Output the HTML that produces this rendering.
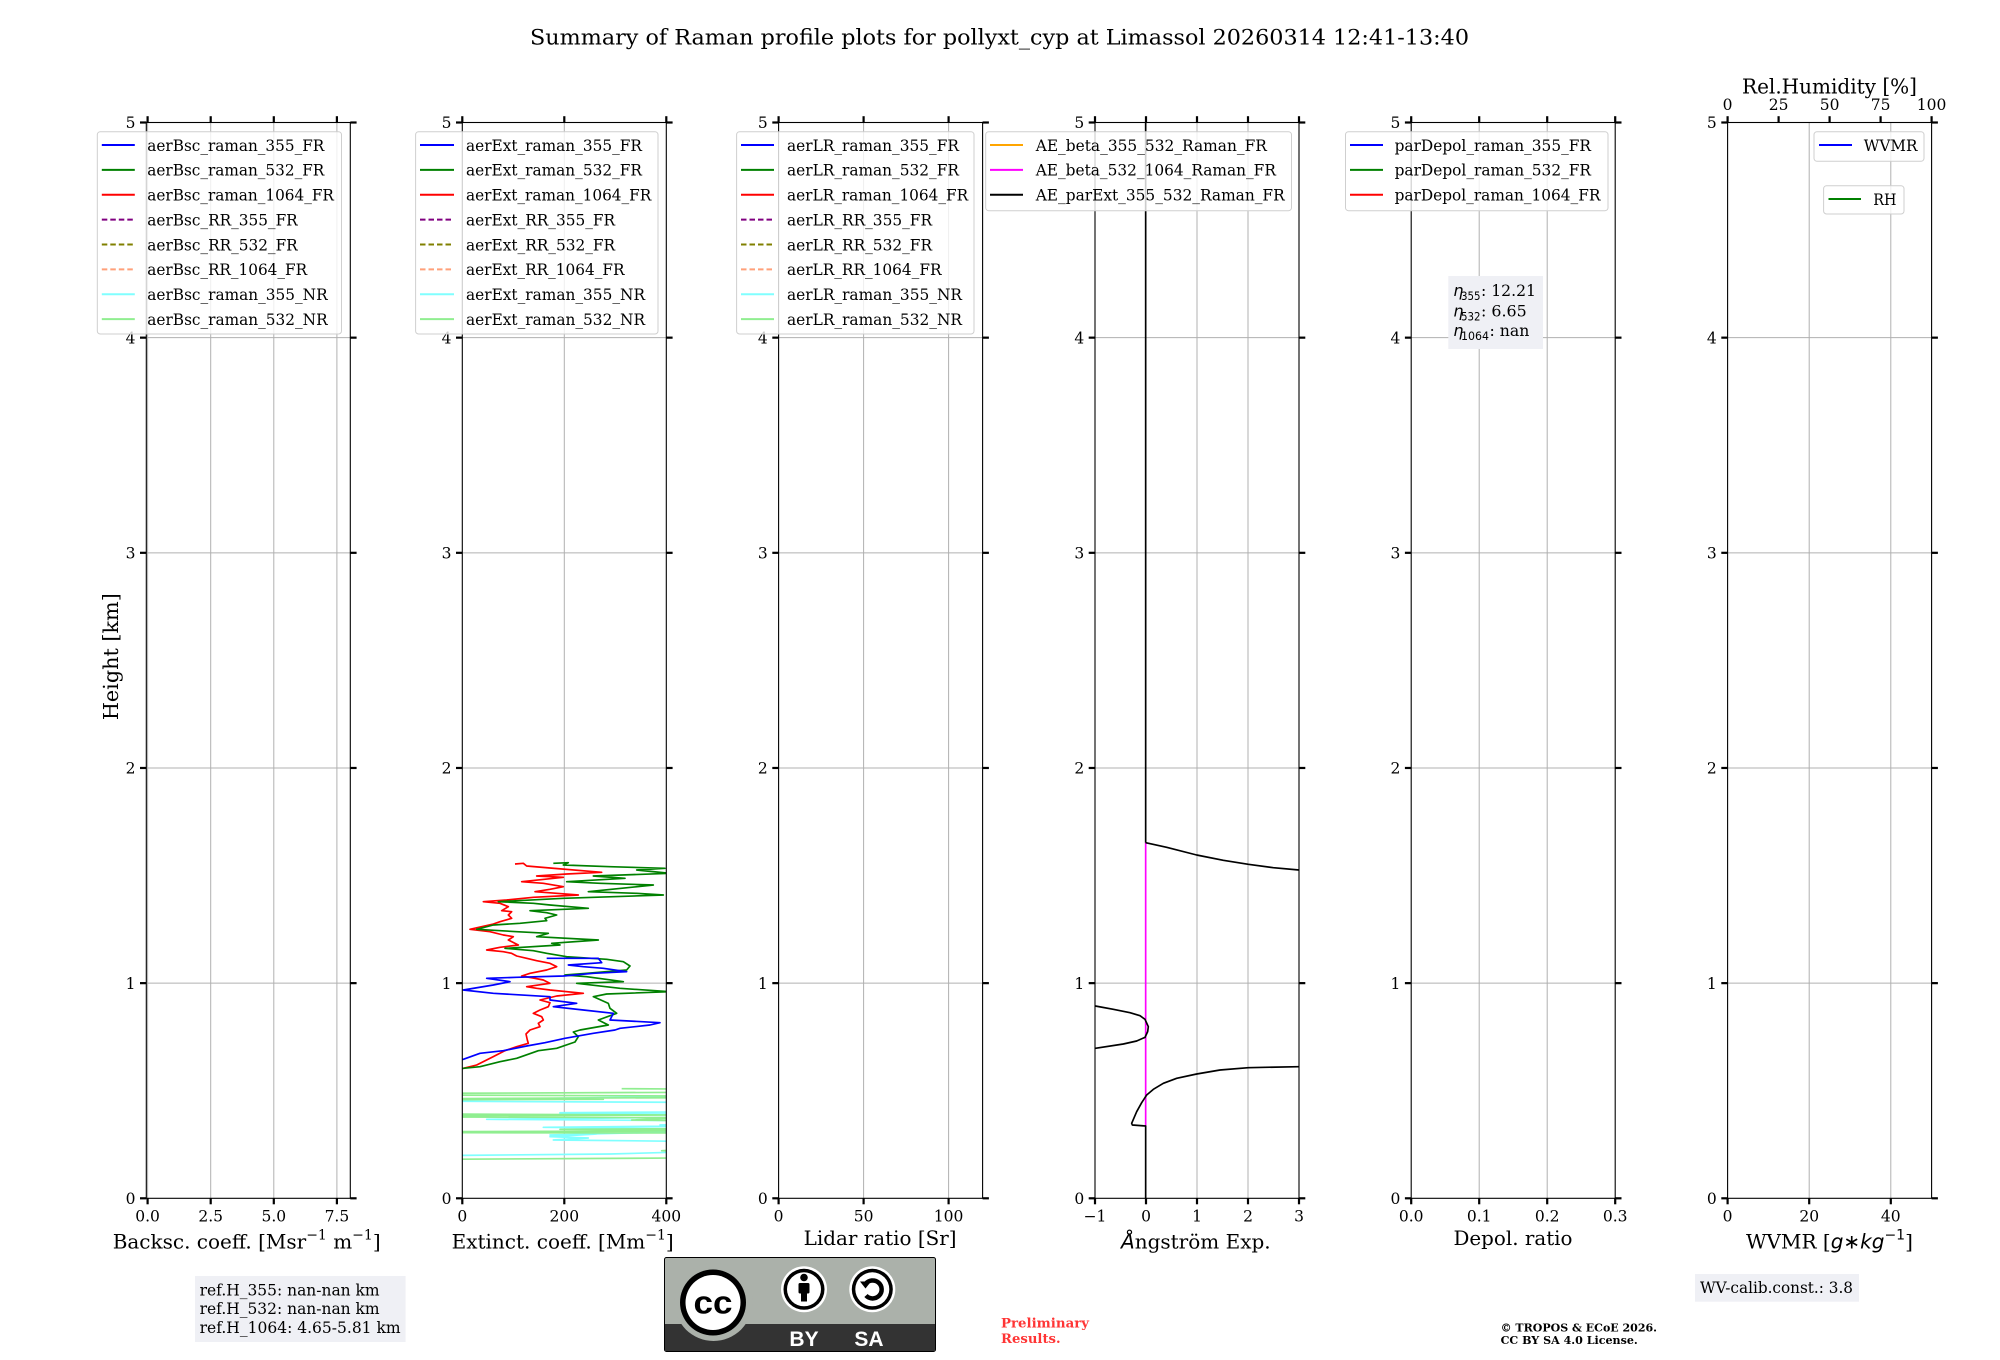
<!DOCTYPE html>
<html><head><meta charset="utf-8">
<style>
html,body{margin:0;padding:0;background:#fff;}
svg{display:block;}
.s{font-family:"DejaVu Serif","Liberation Serif",serif;fill:#000;}
.t{font-family:"DejaVu Serif","Liberation Serif",serif;font-size:15.5px;fill:#000;}
.lg{font-family:"DejaVu Serif","Liberation Serif",serif;font-size:16px;fill:#000;}
.m{font-family:"DejaVu Sans","Liberation Sans",sans-serif;font-style:italic;fill:#000;}
.ms{font-family:"DejaVu Sans","Liberation Sans",sans-serif;fill:#000;}
.grid line{stroke:#b0b0b0;stroke-width:1;}
.tk line{stroke:#000;stroke-width:2.2;}
.sp{fill:none;stroke:#000;stroke-width:1.1;}
.lbox{fill:#fff;fill-opacity:0.8;stroke:#cfcfcf;stroke-width:1;}
</style></head>
<body>
<svg width="2000" height="1360" viewBox="0 0 2000 1360" xmlns="http://www.w3.org/2000/svg">
<defs>
<clipPath id="c2"><rect x="462.3" y="122.5" width="204" height="1075.8"/></clipPath>
<clipPath id="c4"><rect x="1095" y="122.5" width="204" height="1075.8"/></clipPath>
</defs>

<text class="s" x="530" y="44.3" font-size="21.5" textLength="939" lengthAdjust="spacingAndGlyphs">Summary of Raman profile plots for pollyxt_cyp at Limassol 20260314 12:41-13:40</text>

<g class="grid">
<line x1="146.3" x2="350.3" y1="337.66" y2="337.66"/><line x1="146.3" x2="350.3" y1="552.82" y2="552.82"/><line x1="146.3" x2="350.3" y1="767.98" y2="767.98"/><line x1="146.3" x2="350.3" y1="983.14" y2="983.14"/>
<line x1="462.3" x2="666.3" y1="337.66" y2="337.66"/><line x1="462.3" x2="666.3" y1="552.82" y2="552.82"/><line x1="462.3" x2="666.3" y1="767.98" y2="767.98"/><line x1="462.3" x2="666.3" y1="983.14" y2="983.14"/>
<line x1="778.6" x2="982.6" y1="337.66" y2="337.66"/><line x1="778.6" x2="982.6" y1="552.82" y2="552.82"/><line x1="778.6" x2="982.6" y1="767.98" y2="767.98"/><line x1="778.6" x2="982.6" y1="983.14" y2="983.14"/>
<line x1="1095" x2="1299" y1="337.66" y2="337.66"/><line x1="1095" x2="1299" y1="552.82" y2="552.82"/><line x1="1095" x2="1299" y1="767.98" y2="767.98"/><line x1="1095" x2="1299" y1="983.14" y2="983.14"/>
<line x1="1411.2" x2="1615.2" y1="337.66" y2="337.66"/><line x1="1411.2" x2="1615.2" y1="552.82" y2="552.82"/><line x1="1411.2" x2="1615.2" y1="767.98" y2="767.98"/><line x1="1411.2" x2="1615.2" y1="983.14" y2="983.14"/>
<line x1="1727.6" x2="1931.6" y1="337.66" y2="337.66"/><line x1="1727.6" x2="1931.6" y1="552.82" y2="552.82"/><line x1="1727.6" x2="1931.6" y1="767.98" y2="767.98"/><line x1="1727.6" x2="1931.6" y1="983.14" y2="983.14"/>
<line x1="147.6" x2="147.6" y1="122.5" y2="1198.3"/><line x1="210.7" x2="210.7" y1="122.5" y2="1198.3"/><line x1="273.8" x2="273.8" y1="122.5" y2="1198.3"/><line x1="336.9" x2="336.9" y1="122.5" y2="1198.3"/>
<line x1="564.3" x2="564.3" y1="122.5" y2="1198.3"/>
<line x1="863.6" x2="863.6" y1="122.5" y2="1198.3"/><line x1="948.6" x2="948.6" y1="122.5" y2="1198.3"/>
<line x1="1146" x2="1146" y1="122.5" y2="1198.3"/><line x1="1197" x2="1197" y1="122.5" y2="1198.3"/><line x1="1248" x2="1248" y1="122.5" y2="1198.3"/>
<line x1="1479.2" x2="1479.2" y1="122.5" y2="1198.3"/><line x1="1547.2" x2="1547.2" y1="122.5" y2="1198.3"/>
<line x1="1809.2" x2="1809.2" y1="122.5" y2="1198.3"/><line x1="1890.8" x2="1890.8" y1="122.5" y2="1198.3"/>
</g>

<g clip-path="url(#c2)" fill="none" stroke-linejoin="round">
 <g transform="translate(450,1030) scale(0.333333)" stroke-width="5">
  <polyline stroke="#80ffff" points="700,200 40,208 -60,210 -60,213 40,214 700,217 700,246 330,248 330,250 700,252 700,262 110,268 700,272 700,283 630,285 700,288 280,292 700,296 700,305 300,315 440,312 300,320 415,324 310,330 700,334 700,366 480,372 -60,377 -60,382"/>
  <polyline stroke="#90ee90" points="515,176 700,177 700,187 -60,190 -60,195 700,198 700,203 -60,206 460,208 -60,209 -60,252 700,255 -60,258 -60,261 700,263 545,270 700,272 700,296 330,298 700,300 700,303 -60,305 -60,308 700,309 700,360 635,362 700,364 700,384 -60,388 -60,392"/>
 </g>
 <g transform="translate(450,840) scale(0.333333)" stroke-width="5">
  <polyline stroke="#ff0000" points="195,72 220,70 230,78 300,84 455,97 350,102 260,108 340,112 215,125 280,130 340,140 300,148 255,155 320,160 385,165 250,172 170,180 100,185 150,190 175,200 155,212 185,215 175,225 185,235 150,245 130,252 60,268 120,275 160,285 190,290 175,300 205,315 150,322 110,330 160,335 185,340 200,348 230,355 260,362 300,370 320,380 290,390 240,400 215,408 250,414 280,420 300,430 230,440 260,445 300,450 400,460 320,468 270,480 300,488 295,500 270,510 250,520 275,530 280,540 265,550 270,560 240,570 228,582 232,600 235,610 200,620 165,632 130,650 80,675 40,685 20,688"/>
  <polyline stroke="#008000" points="310,70 355,68 340,75 480,80 645,85 560,90 660,100 430,108 525,115 350,125 450,130 610,135 415,155 560,160 640,165 340,175 145,185 250,190 300,195 415,205 240,212 290,218 320,225 285,235 290,242 210,250 130,255 80,268 200,275 295,280 260,290 445,300 305,310 330,315 165,325 250,332 290,340 350,350 470,358 520,365 540,378 530,390 410,400 345,405 410,410 520,425 380,430 510,445 660,455 470,462 430,470 475,490 480,505 500,520 445,540 475,555 390,570 370,576 385,590 375,606 320,625 265,632 200,655 150,665 90,680 40,685 20,688"/>
  <polyline stroke="#0000ff" points="290,355 445,355 455,368 355,375 400,380 460,385 530,395 430,400 340,408 200,412 110,415 180,425 130,435 40,450 130,460 300,470 300,480 380,490 310,500 400,510 490,520 480,540 630,548 600,555 510,565 495,570 430,580 345,595 285,608 230,618 160,632 90,640 40,658 20,662"/>
 </g>
</g>

<g clip-path="url(#c4)" fill="none" stroke-linejoin="round">
 <g transform="translate(1080,830) scale(0.333333)" stroke-width="5">
  <polyline stroke="#ff00ff" points="197,38 197,887"/>
  <polyline stroke="#000" points="197,-2130 197,38"/>
  <polyline stroke="#000" points="197,38 260,52 350,75 430,91 505,103 580,113 657,120 720,123"/>
  <polyline stroke="#000" points="-20,525 46,528 100,538 150,548 180,557 195,568 205,590 203,605 195,622 170,633 130,642 46,655 -20,660"/>
  <polyline stroke="#000" points="720,710 657,710 505,713 420,720 350,732 290,745 250,760 220,778 200,795 185,818 170,845 155,880 157,885 197,888 197,1120"/>
 </g>
</g>

<rect class="sp" x="146.3" y="122.5" width="204" height="1075.8"/>
<rect class="sp" x="462.3" y="122.5" width="204" height="1075.8"/>
<rect class="sp" x="778.6" y="122.5" width="204" height="1075.8"/>
<rect class="sp" x="1095" y="122.5" width="204" height="1075.8"/>
<rect class="sp" x="1411.2" y="122.5" width="204" height="1075.8"/>
<rect class="sp" x="1727.6" y="122.5" width="204" height="1075.8"/>

<g class="tk">
<line x1="140" x2="146.3" y1="122.5" y2="122.5"/><line x1="140" x2="146.3" y1="337.66" y2="337.66"/><line x1="140" x2="146.3" y1="552.82" y2="552.82"/><line x1="140" x2="146.3" y1="767.98" y2="767.98"/><line x1="140" x2="146.3" y1="983.14" y2="983.14"/><line x1="140" x2="146.3" y1="1198.3" y2="1198.3"/>
<line x1="350.3" x2="356.6" y1="122.5" y2="122.5"/><line x1="350.3" x2="356.6" y1="337.66" y2="337.66"/><line x1="350.3" x2="356.6" y1="552.82" y2="552.82"/><line x1="350.3" x2="356.6" y1="767.98" y2="767.98"/><line x1="350.3" x2="356.6" y1="983.14" y2="983.14"/><line x1="350.3" x2="356.6" y1="1198.3" y2="1198.3"/>
<line x1="456" x2="462.3" y1="122.5" y2="122.5"/><line x1="456" x2="462.3" y1="337.66" y2="337.66"/><line x1="456" x2="462.3" y1="552.82" y2="552.82"/><line x1="456" x2="462.3" y1="767.98" y2="767.98"/><line x1="456" x2="462.3" y1="983.14" y2="983.14"/><line x1="456" x2="462.3" y1="1198.3" y2="1198.3"/>
<line x1="666.3" x2="672.6" y1="122.5" y2="122.5"/><line x1="666.3" x2="672.6" y1="337.66" y2="337.66"/><line x1="666.3" x2="672.6" y1="552.82" y2="552.82"/><line x1="666.3" x2="672.6" y1="767.98" y2="767.98"/><line x1="666.3" x2="672.6" y1="983.14" y2="983.14"/><line x1="666.3" x2="672.6" y1="1198.3" y2="1198.3"/>
<line x1="772.3" x2="778.6" y1="122.5" y2="122.5"/><line x1="772.3" x2="778.6" y1="337.66" y2="337.66"/><line x1="772.3" x2="778.6" y1="552.82" y2="552.82"/><line x1="772.3" x2="778.6" y1="767.98" y2="767.98"/><line x1="772.3" x2="778.6" y1="983.14" y2="983.14"/><line x1="772.3" x2="778.6" y1="1198.3" y2="1198.3"/>
<line x1="982.6" x2="988.9" y1="122.5" y2="122.5"/><line x1="982.6" x2="988.9" y1="337.66" y2="337.66"/><line x1="982.6" x2="988.9" y1="552.82" y2="552.82"/><line x1="982.6" x2="988.9" y1="767.98" y2="767.98"/><line x1="982.6" x2="988.9" y1="983.14" y2="983.14"/><line x1="982.6" x2="988.9" y1="1198.3" y2="1198.3"/>
<line x1="1088.7" x2="1095" y1="122.5" y2="122.5"/><line x1="1088.7" x2="1095" y1="337.66" y2="337.66"/><line x1="1088.7" x2="1095" y1="552.82" y2="552.82"/><line x1="1088.7" x2="1095" y1="767.98" y2="767.98"/><line x1="1088.7" x2="1095" y1="983.14" y2="983.14"/><line x1="1088.7" x2="1095" y1="1198.3" y2="1198.3"/>
<line x1="1299" x2="1305.3" y1="122.5" y2="122.5"/><line x1="1299" x2="1305.3" y1="337.66" y2="337.66"/><line x1="1299" x2="1305.3" y1="552.82" y2="552.82"/><line x1="1299" x2="1305.3" y1="767.98" y2="767.98"/><line x1="1299" x2="1305.3" y1="983.14" y2="983.14"/><line x1="1299" x2="1305.3" y1="1198.3" y2="1198.3"/>
<line x1="1404.9" x2="1411.2" y1="122.5" y2="122.5"/><line x1="1404.9" x2="1411.2" y1="337.66" y2="337.66"/><line x1="1404.9" x2="1411.2" y1="552.82" y2="552.82"/><line x1="1404.9" x2="1411.2" y1="767.98" y2="767.98"/><line x1="1404.9" x2="1411.2" y1="983.14" y2="983.14"/><line x1="1404.9" x2="1411.2" y1="1198.3" y2="1198.3"/>
<line x1="1615.2" x2="1621.5" y1="122.5" y2="122.5"/><line x1="1615.2" x2="1621.5" y1="337.66" y2="337.66"/><line x1="1615.2" x2="1621.5" y1="552.82" y2="552.82"/><line x1="1615.2" x2="1621.5" y1="767.98" y2="767.98"/><line x1="1615.2" x2="1621.5" y1="983.14" y2="983.14"/><line x1="1615.2" x2="1621.5" y1="1198.3" y2="1198.3"/>
<line x1="1721.3" x2="1727.6" y1="122.5" y2="122.5"/><line x1="1721.3" x2="1727.6" y1="337.66" y2="337.66"/><line x1="1721.3" x2="1727.6" y1="552.82" y2="552.82"/><line x1="1721.3" x2="1727.6" y1="767.98" y2="767.98"/><line x1="1721.3" x2="1727.6" y1="983.14" y2="983.14"/><line x1="1721.3" x2="1727.6" y1="1198.3" y2="1198.3"/>
<line x1="1931.6" x2="1937.9" y1="122.5" y2="122.5"/><line x1="1931.6" x2="1937.9" y1="337.66" y2="337.66"/><line x1="1931.6" x2="1937.9" y1="552.82" y2="552.82"/><line x1="1931.6" x2="1937.9" y1="767.98" y2="767.98"/><line x1="1931.6" x2="1937.9" y1="983.14" y2="983.14"/><line x1="1931.6" x2="1937.9" y1="1198.3" y2="1198.3"/>
<line x1="147.6" x2="147.6" y1="116.2" y2="122.5"/><line x1="210.7" x2="210.7" y1="116.2" y2="122.5"/><line x1="273.8" x2="273.8" y1="116.2" y2="122.5"/><line x1="336.9" x2="336.9" y1="116.2" y2="122.5"/>
<line x1="147.6" x2="147.6" y1="1198.3" y2="1204.3"/><line x1="210.7" x2="210.7" y1="1198.3" y2="1204.3"/><line x1="273.8" x2="273.8" y1="1198.3" y2="1204.3"/><line x1="336.9" x2="336.9" y1="1198.3" y2="1204.3"/>
<line x1="462.3" x2="462.3" y1="116.2" y2="122.5"/><line x1="564.3" x2="564.3" y1="116.2" y2="122.5"/><line x1="666.3" x2="666.3" y1="116.2" y2="122.5"/>
<line x1="462.3" x2="462.3" y1="1198.3" y2="1204.3"/><line x1="564.3" x2="564.3" y1="1198.3" y2="1204.3"/><line x1="666.3" x2="666.3" y1="1198.3" y2="1204.3"/>
<line x1="778.6" x2="778.6" y1="116.2" y2="122.5"/><line x1="863.6" x2="863.6" y1="116.2" y2="122.5"/><line x1="948.6" x2="948.6" y1="116.2" y2="122.5"/>
<line x1="778.6" x2="778.6" y1="1198.3" y2="1204.3"/><line x1="863.6" x2="863.6" y1="1198.3" y2="1204.3"/><line x1="948.6" x2="948.6" y1="1198.3" y2="1204.3"/>
<line x1="1095" x2="1095" y1="116.2" y2="122.5"/><line x1="1146" x2="1146" y1="116.2" y2="122.5"/><line x1="1197" x2="1197" y1="116.2" y2="122.5"/><line x1="1248" x2="1248" y1="116.2" y2="122.5"/><line x1="1299" x2="1299" y1="116.2" y2="122.5"/>
<line x1="1095" x2="1095" y1="1198.3" y2="1204.3"/><line x1="1146" x2="1146" y1="1198.3" y2="1204.3"/><line x1="1197" x2="1197" y1="1198.3" y2="1204.3"/><line x1="1248" x2="1248" y1="1198.3" y2="1204.3"/><line x1="1299" x2="1299" y1="1198.3" y2="1204.3"/>
<line x1="1411.2" x2="1411.2" y1="116.2" y2="122.5"/><line x1="1479.2" x2="1479.2" y1="116.2" y2="122.5"/><line x1="1547.2" x2="1547.2" y1="116.2" y2="122.5"/><line x1="1615.2" x2="1615.2" y1="116.2" y2="122.5"/>
<line x1="1411.2" x2="1411.2" y1="1198.3" y2="1204.3"/><line x1="1479.2" x2="1479.2" y1="1198.3" y2="1204.3"/><line x1="1547.2" x2="1547.2" y1="1198.3" y2="1204.3"/><line x1="1615.2" x2="1615.2" y1="1198.3" y2="1204.3"/>
<line x1="1727.6" x2="1727.6" y1="116.2" y2="122.5"/><line x1="1778.6" x2="1778.6" y1="116.2" y2="122.5"/><line x1="1829.6" x2="1829.6" y1="116.2" y2="122.5"/><line x1="1880.6" x2="1880.6" y1="116.2" y2="122.5"/><line x1="1931.6" x2="1931.6" y1="116.2" y2="122.5"/>
<line x1="1727.6" x2="1727.6" y1="1198.3" y2="1204.3"/><line x1="1809.2" x2="1809.2" y1="1198.3" y2="1204.3"/><line x1="1890.8" x2="1890.8" y1="1198.3" y2="1204.3"/>
</g>

<g class="t" text-anchor="end">
<text x="135.5" y="128.2">5</text><text x="135.5" y="343.4">4</text><text x="135.5" y="558.5">3</text><text x="135.5" y="773.7">2</text><text x="135.5" y="988.8">1</text><text x="135.5" y="1204">0</text>
<text x="451.5" y="128.2">5</text><text x="451.5" y="343.4">4</text><text x="451.5" y="558.5">3</text><text x="451.5" y="773.7">2</text><text x="451.5" y="988.8">1</text><text x="451.5" y="1204">0</text>
<text x="767.8" y="128.2">5</text><text x="767.8" y="343.4">4</text><text x="767.8" y="558.5">3</text><text x="767.8" y="773.7">2</text><text x="767.8" y="988.8">1</text><text x="767.8" y="1204">0</text>
<text x="1084.2" y="128.2">5</text><text x="1084.2" y="343.4">4</text><text x="1084.2" y="558.5">3</text><text x="1084.2" y="773.7">2</text><text x="1084.2" y="988.8">1</text><text x="1084.2" y="1204">0</text>
<text x="1400.4" y="128.2">5</text><text x="1400.4" y="343.4">4</text><text x="1400.4" y="558.5">3</text><text x="1400.4" y="773.7">2</text><text x="1400.4" y="988.8">1</text><text x="1400.4" y="1204">0</text>
<text x="1716.8" y="128.2">5</text><text x="1716.8" y="343.4">4</text><text x="1716.8" y="558.5">3</text><text x="1716.8" y="773.7">2</text><text x="1716.8" y="988.8">1</text><text x="1716.8" y="1204">0</text>
</g>

<g class="t" text-anchor="middle">
<text x="147.6" y="1221.5">0.0</text><text x="210.7" y="1221.5">2.5</text><text x="273.8" y="1221.5">5.0</text><text x="336.9" y="1221.5">7.5</text>
<text x="462.3" y="1221.5">0</text><text x="564.3" y="1221.5">200</text><text x="666.3" y="1221.5">400</text>
<text x="778.6" y="1221.5">0</text><text x="863.6" y="1221.5">50</text><text x="948.6" y="1221.5">100</text>
<text x="1095" y="1221.5">−1</text><text x="1146" y="1221.5">0</text><text x="1197" y="1221.5">1</text><text x="1248" y="1221.5">2</text><text x="1299" y="1221.5">3</text>
<text x="1411.2" y="1221.5">0.0</text><text x="1479.2" y="1221.5">0.1</text><text x="1547.2" y="1221.5">0.2</text><text x="1615.2" y="1221.5">0.3</text>
<text x="1727.6" y="1221.5">0</text><text x="1809.2" y="1221.5">20</text><text x="1890.8" y="1221.5">40</text>
<text x="1727.6" y="110">0</text><text x="1778.6" y="110">25</text><text x="1829.6" y="110">50</text><text x="1880.6" y="110">75</text><text x="1931.6" y="110">100</text>
</g>
<text class="s" x="1742" y="93.3" font-size="20.5" textLength="175" lengthAdjust="spacingAndGlyphs">Rel.Humidity [%]</text>

<text class="s" font-size="20.5" transform="translate(118,656.7) rotate(-90)" text-anchor="middle" textLength="127" lengthAdjust="spacingAndGlyphs">Height [km]</text>

<text class="s" x="112.7" y="1248.3" font-size="20">Backsc. coeff. [Msr<tspan font-size="14" dy="-9">−1</tspan><tspan dy="9"> m</tspan><tspan font-size="14" dy="-9">−1</tspan><tspan dy="9">]</tspan></text>
<text class="s" x="451.6" y="1248.3" font-size="20">Extinct. coeff. [Mm<tspan font-size="14" dy="-9">−1</tspan><tspan dy="9">]</tspan></text>
<text class="s" x="803.6" y="1245" font-size="20" textLength="153" lengthAdjust="spacingAndGlyphs">Lidar ratio [Sr]</text>
<text x="1121" y="1248.5" font-size="20"><tspan class="m">Å</tspan><tspan class="s">ngström Exp.</tspan></text>
<text class="s" x="1453.5" y="1245" font-size="20" textLength="119" lengthAdjust="spacingAndGlyphs">Depol. ratio</text>
<text x="1746" y="1248.3" font-size="20"><tspan class="s">WVMR [</tspan><tspan class="m">g</tspan><tspan class="ms">∗</tspan><tspan class="m">kg</tspan><tspan class="ms" font-size="14" dy="-9">−1</tspan><tspan class="s" dy="9">]</tspan></text>

<g fill="none" stroke-width="2">
<rect class="lbox" x="97.3" y="131.7" width="244.2" height="202.3" rx="3"/>
<line x1="101.8" x2="134.8" y1="145" y2="145" stroke="#0000ff"/>
<line x1="101.8" x2="134.8" y1="169.9" y2="169.9" stroke="#008000"/>
<line x1="101.8" x2="134.8" y1="194.7" y2="194.7" stroke="#ff0000"/>
<line x1="101.8" x2="134.8" y1="219.6" y2="219.6" stroke="#800080" stroke-dasharray="5.5,3"/>
<line x1="101.8" x2="134.8" y1="244.5" y2="244.5" stroke="#808000" stroke-dasharray="5.5,3"/>
<line x1="101.8" x2="134.8" y1="269.4" y2="269.4" stroke="#ffa07a" stroke-dasharray="5.5,3"/>
<line x1="101.8" x2="134.8" y1="294.2" y2="294.2" stroke="#80ffff"/>
<line x1="101.8" x2="134.8" y1="319.1" y2="319.1" stroke="#90ee90"/>
<rect class="lbox" x="415.6" y="131.7" width="242.4" height="202.3" rx="3"/>
<line x1="420" x2="454" y1="145" y2="145" stroke="#0000ff"/>
<line x1="420" x2="454" y1="169.9" y2="169.9" stroke="#008000"/>
<line x1="420" x2="454" y1="194.7" y2="194.7" stroke="#ff0000"/>
<line x1="420" x2="454" y1="219.6" y2="219.6" stroke="#800080" stroke-dasharray="5.5,3"/>
<line x1="420" x2="454" y1="244.5" y2="244.5" stroke="#808000" stroke-dasharray="5.5,3"/>
<line x1="420" x2="454" y1="269.4" y2="269.4" stroke="#ffa07a" stroke-dasharray="5.5,3"/>
<line x1="420" x2="454" y1="294.2" y2="294.2" stroke="#80ffff"/>
<line x1="420" x2="454" y1="319.1" y2="319.1" stroke="#90ee90"/>
<rect class="lbox" x="736.6" y="131.7" width="237.4" height="202.3" rx="3"/>
<line x1="741" x2="774" y1="145" y2="145" stroke="#0000ff"/>
<line x1="741" x2="774" y1="169.9" y2="169.9" stroke="#008000"/>
<line x1="741" x2="774" y1="194.7" y2="194.7" stroke="#ff0000"/>
<line x1="741" x2="774" y1="219.6" y2="219.6" stroke="#800080" stroke-dasharray="5.5,3"/>
<line x1="741" x2="774" y1="244.5" y2="244.5" stroke="#808000" stroke-dasharray="5.5,3"/>
<line x1="741" x2="774" y1="269.4" y2="269.4" stroke="#ffa07a" stroke-dasharray="5.5,3"/>
<line x1="741" x2="774" y1="294.2" y2="294.2" stroke="#80ffff"/>
<line x1="741" x2="774" y1="319.1" y2="319.1" stroke="#90ee90"/>
<rect class="lbox" x="985.7" y="131.7" width="305.8" height="79" rx="3"/>
<line x1="990" x2="1023" y1="145" y2="145" stroke="#ffa500"/>
<line x1="990" x2="1023" y1="169.9" y2="169.9" stroke="#ff00ff"/>
<line x1="990" x2="1023" y1="194.7" y2="194.7" stroke="#000000"/>
<rect class="lbox" x="1345.5" y="131.7" width="262.5" height="79" rx="3"/>
<line x1="1350" x2="1383" y1="145" y2="145" stroke="#0000ff"/>
<line x1="1350" x2="1383" y1="169.9" y2="169.9" stroke="#008000"/>
<line x1="1350" x2="1383" y1="194.7" y2="194.7" stroke="#ff0000"/>
<rect class="lbox" x="1814" y="131.7" width="110" height="29.6" rx="3"/>
<line x1="1819" x2="1852" y1="145" y2="145" stroke="#0000ff"/>
<rect class="lbox" x="1823.6" y="185.7" width="80.4" height="28.3" rx="3"/>
<line x1="1828.5" x2="1861" y1="199" y2="199" stroke="#008000"/>
</g>
<g class="lg">
<text x="147.3" y="150.8" textLength="177" lengthAdjust="spacingAndGlyphs">aerBsc_raman_355_FR</text>
<text x="147.3" y="175.7" textLength="177" lengthAdjust="spacingAndGlyphs">aerBsc_raman_532_FR</text>
<text x="147.3" y="200.5" textLength="186.6" lengthAdjust="spacingAndGlyphs">aerBsc_raman_1064_FR</text>
<text x="147.3" y="225.4" textLength="150.4" lengthAdjust="spacingAndGlyphs">aerBsc_RR_355_FR</text>
<text x="147.3" y="250.3" textLength="150.4" lengthAdjust="spacingAndGlyphs">aerBsc_RR_532_FR</text>
<text x="147.3" y="275.2" textLength="159.8" lengthAdjust="spacingAndGlyphs">aerBsc_RR_1064_FR</text>
<text x="147.3" y="300" textLength="180.3" lengthAdjust="spacingAndGlyphs">aerBsc_raman_355_NR</text>
<text x="147.3" y="324.9" textLength="180.3" lengthAdjust="spacingAndGlyphs">aerBsc_raman_532_NR</text>

<text x="466" y="150.8" textLength="175.9" lengthAdjust="spacingAndGlyphs">aerExt_raman_355_FR</text>
<text x="466" y="175.7" textLength="175.9" lengthAdjust="spacingAndGlyphs">aerExt_raman_532_FR</text>
<text x="466" y="200.5" textLength="185.3" lengthAdjust="spacingAndGlyphs">aerExt_raman_1064_FR</text>
<text x="466" y="225.4" textLength="149.1" lengthAdjust="spacingAndGlyphs">aerExt_RR_355_FR</text>
<text x="466" y="250.3" textLength="149.1" lengthAdjust="spacingAndGlyphs">aerExt_RR_532_FR</text>
<text x="466" y="275.2" textLength="158.5" lengthAdjust="spacingAndGlyphs">aerExt_RR_1064_FR</text>
<text x="466" y="300" textLength="179" lengthAdjust="spacingAndGlyphs">aerExt_raman_355_NR</text>
<text x="466" y="324.9" textLength="179" lengthAdjust="spacingAndGlyphs">aerExt_raman_532_NR</text>

<text x="787" y="150.8" textLength="171.9" lengthAdjust="spacingAndGlyphs">aerLR_raman_355_FR</text>
<text x="787" y="175.7" textLength="171.9" lengthAdjust="spacingAndGlyphs">aerLR_raman_532_FR</text>
<text x="787" y="200.5" textLength="181.2" lengthAdjust="spacingAndGlyphs">aerLR_raman_1064_FR</text>
<text x="787" y="225.4" textLength="145" lengthAdjust="spacingAndGlyphs">aerLR_RR_355_FR</text>
<text x="787" y="250.3" textLength="145" lengthAdjust="spacingAndGlyphs">aerLR_RR_532_FR</text>
<text x="787" y="275.2" textLength="154.5" lengthAdjust="spacingAndGlyphs">aerLR_RR_1064_FR</text>
<text x="787" y="300" textLength="175" lengthAdjust="spacingAndGlyphs">aerLR_raman_355_NR</text>
<text x="787" y="324.9" textLength="175" lengthAdjust="spacingAndGlyphs">aerLR_raman_532_NR</text>

<text x="1035.7" y="150.8" textLength="231.2" lengthAdjust="spacingAndGlyphs">AE_beta_355_532_Raman_FR</text>
<text x="1035.7" y="175.7" textLength="240.2" lengthAdjust="spacingAndGlyphs">AE_beta_532_1064_Raman_FR</text>
<text x="1035.7" y="200.5" textLength="249" lengthAdjust="spacingAndGlyphs">AE_parExt_355_532_Raman_FR</text>

<text x="1394.6" y="150.8" textLength="196.4" lengthAdjust="spacingAndGlyphs">parDepol_raman_355_FR</text>
<text x="1394.6" y="175.7" textLength="196.4" lengthAdjust="spacingAndGlyphs">parDepol_raman_532_FR</text>
<text x="1394.6" y="200.5" textLength="205.8" lengthAdjust="spacingAndGlyphs">parDepol_raman_1064_FR</text>

<text x="1863.8" y="150.8" textLength="53.6" lengthAdjust="spacingAndGlyphs">WVMR</text>
<text x="1873.2" y="204.8" textLength="23.2" lengthAdjust="spacingAndGlyphs">RH</text>
</g>

<rect x="1448.3" y="276" width="94.7" height="73" fill="#eff0f5"/>
<g font-size="16">
<text x="1453.3" y="296"><tspan class="m">η</tspan></text>
<text class="ms" x="1461" y="300" font-size="11.5" textLength="19.5" lengthAdjust="spacingAndGlyphs">355</text>
<text class="s" x="1481" y="296" textLength="55" lengthAdjust="spacingAndGlyphs">: 12.21</text>
<text x="1453.3" y="316.7"><tspan class="m">η</tspan></text>
<text class="ms" x="1461" y="320.7" font-size="11.5" textLength="19.5" lengthAdjust="spacingAndGlyphs">532</text>
<text class="s" x="1481" y="316.7" textLength="45.7" lengthAdjust="spacingAndGlyphs">: 6.65</text>
<text x="1453.3" y="336"><tspan class="m">η</tspan></text>
<text class="ms" x="1461" y="340" font-size="11.5" textLength="28" lengthAdjust="spacingAndGlyphs">1064</text>
<text class="s" x="1489.5" y="336" textLength="39.8" lengthAdjust="spacingAndGlyphs">: nan</text>
</g>

<rect x="195" y="1276" width="210.6" height="66" fill="#eff0f5"/>
<g class="lg">
<text x="199.6" y="1295.5" textLength="180" lengthAdjust="spacingAndGlyphs">ref.H_355: nan-nan km</text>
<text x="199.6" y="1314.2" textLength="180" lengthAdjust="spacingAndGlyphs">ref.H_532: nan-nan km</text>
<text x="199.6" y="1333.2" textLength="201" lengthAdjust="spacingAndGlyphs">ref.H_1064: 4.65-5.81 km</text>
</g>

<rect x="1695" y="1274" width="164" height="27.7" fill="#eff0f5"/>
<text class="lg" x="1700" y="1292.8" textLength="153" lengthAdjust="spacingAndGlyphs">WV-calib.const.: 3.8</text>

<g>
<rect x="664.5" y="1257.5" width="271" height="94" rx="2" fill="#abb1aa" stroke="#000" stroke-width="1"/>
<rect x="665" y="1324" width="270" height="27" fill="#333333"/>
<circle cx="713.5" cy="1302" r="39" fill="#abb1aa"/>
<circle cx="713" cy="1302.5" r="33" fill="#000"/>
<circle cx="713" cy="1302.5" r="27.5" fill="#fff"/>
<text x="713" y="1313.5" font-family="Liberation Sans, sans-serif" font-weight="bold" font-size="32" text-anchor="middle" textLength="39" lengthAdjust="spacingAndGlyphs" fill="#000">cc</text>
<circle cx="804" cy="1289.3" r="23" fill="#fff"/>
<circle cx="804" cy="1289.3" r="20.5" fill="#000"/>
<circle cx="804" cy="1289.3" r="17" fill="#fff"/>
<circle cx="804" cy="1277.5" r="3.8" fill="#000"/>
<rect x="798.5" y="1283" width="11" height="10.5" rx="1.5" fill="#000"/>
<rect x="801" y="1292" width="6" height="9.5" fill="#000"/>
<circle cx="872.3" cy="1289.3" r="23" fill="#fff"/>
<circle cx="872.3" cy="1289.3" r="20.5" fill="#000"/>
<circle cx="872.3" cy="1289.3" r="17" fill="#fff"/>
<path d="M 865.5 1284 A 9 9 0 1 1 866 1295.5" fill="none" stroke="#000" stroke-width="4.5"/>
<polygon points="860,1281.5 871,1281.5 865.5,1288.5" fill="#000"/>
<text x="804" y="1346" font-family="Liberation Sans, sans-serif" font-weight="bold" font-size="21" text-anchor="middle" fill="#fff">BY</text>
<text x="869" y="1346" font-family="Liberation Sans, sans-serif" font-weight="bold" font-size="21" text-anchor="middle" fill="#fff">SA</text>
</g>

<g font-family="DejaVu Serif, Liberation Serif, serif" font-weight="bold">
<text x="1001" y="1327.5" font-size="13" fill="#ff3535" textLength="88" lengthAdjust="spacingAndGlyphs">Preliminary</text>
<text x="1001" y="1343" font-size="13" fill="#ff3535" textLength="59.6" lengthAdjust="spacingAndGlyphs">Results.</text>
<text x="1500.6" y="1331.7" font-size="11" fill="#000" textLength="156.4" lengthAdjust="spacingAndGlyphs">© TROPOS &amp; ECoE 2026.</text>
<text x="1500.6" y="1344" font-size="11" fill="#000" textLength="137.2" lengthAdjust="spacingAndGlyphs">CC BY SA 4.0 License.</text>
</g>
</svg>
</body></html>
